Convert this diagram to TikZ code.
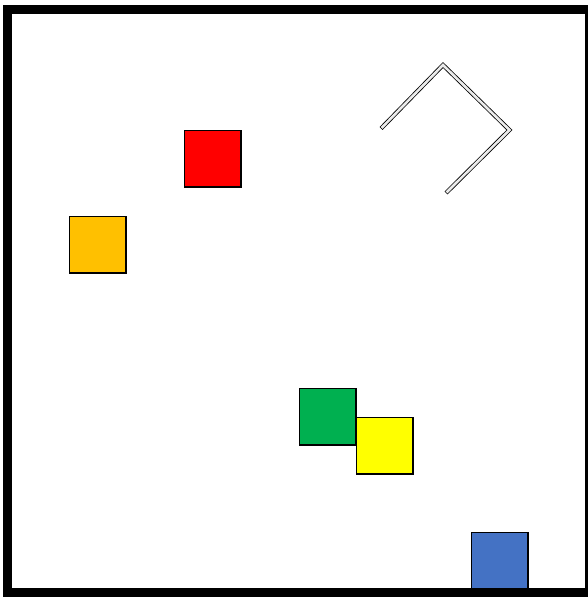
\documentclass[tikz,border=0pt]{standalone}
\begin{document}
\begin{tikzpicture}[x=1pt,y=-1pt,
  sq/.style={draw=black,line width=1.5pt,minimum size=56.5pt,inner sep=0pt,outer sep=0pt,anchor=north west}]
\useasboundingbox (0,0) rectangle (588,597);
\definecolor{cred}{HTML}{FF0000}
\definecolor{corange}{HTML}{FFC000}
\definecolor{cgreen}{HTML}{00B050}
\definecolor{cyellow}{HTML}{FFFF00}
\definecolor{cblue}{HTML}{4472C4}
\node[sq,fill=cred] (red) at (184.5,130.5) {};
\node[sq,fill=corange] (orange) at (69.5,216.5) {};
\node[sq,fill=cgreen] (green) at (299.5,388.5) {};
\node[sq,fill=cyellow] (yellow) at (356.5,417.5) {};
\node[sq,fill=cblue] (blue) at (471.5,532.5) {};
\coordinate (w1) at (382.5,127);
\coordinate (w2) at (443,65);
\coordinate (w3) at (509.5,130);
\coordinate (w4) at (447.5,191.5);
\draw[double=black!8,double distance=2.6pt,line width=0.8pt,line cap=rect,line join=miter] (w1) -- (w2) -- (w3) -- (w4);
\draw[line width=9pt] (7.5,9.5) rectangle (589.5,592.5);
\end{tikzpicture}
\end{document}
